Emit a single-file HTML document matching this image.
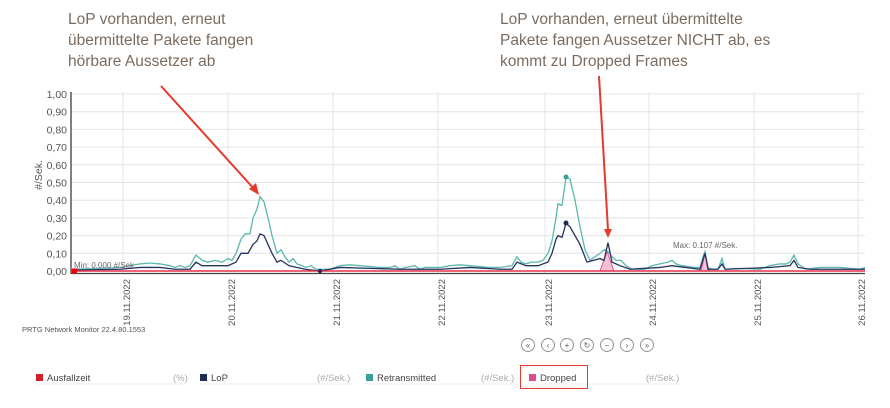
<!DOCTYPE html>
<html><head><meta charset="utf-8"><style>
body{margin:0;background:#fff;width:890px;height:408px;overflow:hidden;font-family:"Liberation Sans",sans-serif}
svg{display:block}
</style></head><body>
<svg width="890" height="408" viewBox="0 0 890 408" xmlns="http://www.w3.org/2000/svg">
<g font-family="Liberation Sans, sans-serif" font-size="15.5" fill="#7b6b5e">
<text x="68" y="24">LoP vorhanden, erneut</text>
<text x="68" y="45">übermittelte Pakete fangen</text>
<text x="68" y="66">hörbare Aussetzer ab</text>
<text x="500" y="24">LoP vorhanden, erneut übermittelte</text>
<text x="500" y="45">Pakete fangen Aussetzer NICHT ab, es</text>
<text x="500" y="66">kommt zu Dropped Frames</text>
</g>
<g stroke="#e4e4e4" stroke-width="1">
<line x1="71" x2="865" y1="94" y2="94"/><line x1="71" x2="865" y1="111.7" y2="111.7"/><line x1="71" x2="865" y1="129.4" y2="129.4"/><line x1="71" x2="865" y1="147.1" y2="147.1"/><line x1="71" x2="865" y1="164.8" y2="164.8"/><line x1="71" x2="865" y1="182.5" y2="182.5"/><line x1="71" x2="865" y1="200.2" y2="200.2"/><line x1="71" x2="865" y1="217.9" y2="217.9"/><line x1="71" x2="865" y1="235.6" y2="235.6"/><line x1="71" x2="865" y1="253.3" y2="253.3"/>
<line x1="123" x2="123" y1="92" y2="273"/><line x1="228" x2="228" y1="92" y2="273"/><line x1="333" x2="333" y1="92" y2="273"/><line x1="438" x2="438" y1="92" y2="273"/><line x1="545" x2="545" y1="92" y2="273"/><line x1="649" x2="649" y1="92" y2="273"/><line x1="754" x2="754" y1="92" y2="273"/><line x1="858" x2="858" y1="92" y2="273"/>
</g>
<line x1="71" x2="71" y1="92" y2="274" stroke="#555" stroke-width="1.5"/>
<line x1="71" x2="865" y1="273.5" y2="273.5" stroke="#444" stroke-width="1.2"/>
<g font-size="10.5" fill="#555" text-anchor="end">
<text x="67" y="98">1,00</text><text x="67" y="115.7">0,90</text><text x="67" y="133.4">0,80</text><text x="67" y="151.1">0,70</text><text x="67" y="168.8">0,60</text><text x="67" y="186.5">0,50</text><text x="67" y="204.2">0,40</text><text x="67" y="221.9">0,30</text><text x="67" y="239.6">0,20</text><text x="67" y="257.3">0,10</text><text x="67" y="275">0,00</text>
</g>
<text transform="translate(42,175) rotate(-90)" font-size="10.5" fill="#555" text-anchor="middle">#/Sek.</text>
<g font-size="9.5" fill="#555" text-anchor="end">
<text transform="translate(130,279) rotate(-90)">19.11.2022</text>
<text transform="translate(235,279) rotate(-90)">20.11.2022</text>
<text transform="translate(340,279) rotate(-90)">21.11.2022</text>
<text transform="translate(445,279) rotate(-90)">22.11.2022</text>
<text transform="translate(552,279) rotate(-90)">23.11.2022</text>
<text transform="translate(656,279) rotate(-90)">24.11.2022</text>
<text transform="translate(761,279) rotate(-90)">25.11.2022</text>
<text transform="translate(865,279) rotate(-90)">26.11.2022</text>
</g>
<g transform="translate(0,271) scale(1,-177)">
<polygon points="600,0 607,0.11 614,0 " fill="#f6c1d6" stroke="#e8508f" stroke-width="1" vector-effect="non-scaling-stroke"/>
<polygon points="701,0 705,0.1 709,0" fill="#f6c1d6" stroke="#e8508f" stroke-width="1" vector-effect="non-scaling-stroke"/>
<polyline fill="none" stroke="#5bb8ae" stroke-width="1.3" vector-effect="non-scaling-stroke" points="71,.01 100,.015 120,.02 130,.03 140,.04 150,.045 160,.04 170,.03 175,.02 180,.03 185,.02 190,.03 196,.09 202,.06 208,.05 215,.06 222,.05 228,.07 232,.06 236,.1 241,.18 245,.21 250,.21 253,.3 257,.35 260,.42 264,.39 268,.3 272,.2 277,.1 281,.12 285,.08 289,.05 293,.07 297,.04 302,.03 306,.02 311,.03 316,.01 330,.01 340,.03 350,.035 360,.03 370,.025 380,.02 390,.02 395,.03 400,.01 405,.02 415,.03 420,.01 425,.02 440,.02 450,.03 460,.035 470,.03 480,.025 490,.02 500,.02 512,.03 517,.08 521,.05 526,.04 531,.05 538,.05 543,.06 548,.1 552,.17 556,.3 558,.38 562,.37 566,.53 570,.52 575,.4 580,.25 585,.12 590,.06 595,.08 600,.1 604,.12 608,.11 612,.08 616,.06 621,.06 626,.03 632,.01 645,.01 652,.03 660,.04 668,.05 672,.06 676,.04 682,.03 688,.025 694,.02 700,.02 703,.08 705,.11 708,.02 712,.01 718,.01 722,.07 725,.01 740,.015 760,.01 770,.03 780,.04 786,.04 790,.05 794,.09 798,.04 806,.01 820,.02 840,.02 860,.01 865,.02"/>
<polyline fill="none" stroke="#26335f" stroke-width="1.3" vector-effect="non-scaling-stroke" points="71,.005 120,.01 140,.02 160,.02 175,.01 190,.01 196,.05 202,.03 215,.03 228,.03 236,.05 241,.1 248,.1 253,.15 257,.17 260,.21 264,.2 268,.15 272,.1 277,.05 281,.06 289,.03 297,.02 305,.01 320,0 340,.02 370,.015 400,.01 440,.01 470,.02 500,.01 512,.01 517,.05 526,.03 538,.03 548,.05 552,.1 556,.18 558,.2 562,.19 566,.27 570,.25 580,.15 587,.05 600,.07 604,.06 608,.16 612,.05 620,.03 630,.01 660,.02 672,.03 700,.01 705,.1 708,.01 718,.01 722,.04 725,.01 770,.02 790,.03 794,.06 798,.02 810,.01 865,.01"/>
</g>
<line x1="71" x2="865" y1="271" y2="271" stroke="#e8304a" stroke-width="1.5"/>
<rect x="72" y="268.5" width="5" height="5" fill="#e00"/>
<circle cx="566" cy="177" r="2.5" fill="#3a9f96"/>
<circle cx="566" cy="223" r="2.5" fill="#1f2b55"/>
<circle cx="320" cy="271" r="2.2" fill="#1f2b55"/>
<text x="74" y="268" font-size="8" fill="#666">Min: 0.000 #/Sek.</text>
<text x="673" y="248" font-size="8" fill="#666">Max: 0.107 #/Sek.</text>
<g stroke="#e53a2a" stroke-width="2" fill="#e53a2a">
<line x1="161" y1="86" x2="255" y2="190"/>
<polygon points="259,195 249,189 256,183" stroke="none"/>
<line x1="599" y1="76" x2="608" y2="230"/>
<polygon points="608,238 604,229 612,229" stroke="none"/>
</g>
<text x="22" y="332" font-size="7.5" fill="#555">PRTG Network Monitor 22.4.80.1553</text>
<g fill="none" stroke="#888" stroke-width="0.9">
<circle cx="528" cy="345" r="6.5"/><circle cx="548" cy="345" r="6.5"/><circle cx="567" cy="345" r="6.5"/><circle cx="587" cy="345" r="6.5"/><circle cx="607" cy="345" r="6.5"/><circle cx="627" cy="345" r="6.5"/><circle cx="647" cy="345" r="6.5"/>
</g>
<g font-size="8" fill="#555" text-anchor="middle">
<text x="528" y="348">«</text><text x="548" y="348">‹</text><text x="567" y="348">+</text><text x="587" y="348">↻</text><text x="607" y="348">−</text><text x="627" y="348">›</text><text x="647" y="348">»</text>
</g>
<g font-size="9.5" fill="#444">
<rect x="36" y="374" width="7" height="7" fill="#d4202a"/><text x="47" y="381">Ausfallzeit</text><text x="173" y="381" fill="#aaa">(%)</text>
<rect x="200" y="374" width="7" height="7" fill="#1f2b55"/><text x="211" y="381">LoP</text><text x="317" y="381" fill="#aaa">(#/Sek.)</text>
<rect x="366" y="374" width="7" height="7" fill="#3a9f96"/><text x="377" y="381">Retransmitted</text><text x="481" y="381" fill="#aaa">(#/Sek.)</text>
<rect x="529" y="374" width="7" height="7" fill="#e04a8e"/><text x="540" y="381">Dropped</text><text x="646" y="381" fill="#aaa">(#/Sek.)</text>
</g>
<g stroke="#eee"><line x1="36" x2="186" y1="384" y2="384"/><line x1="200" x2="352" y1="384" y2="384"/><line x1="366" x2="516" y1="384" y2="384"/><line x1="529" x2="680" y1="384" y2="384"/></g>
<rect x="520.5" y="365.5" width="67" height="23" fill="none" stroke="#e53a2a" stroke-width="1"/>
</svg>
</body></html>
